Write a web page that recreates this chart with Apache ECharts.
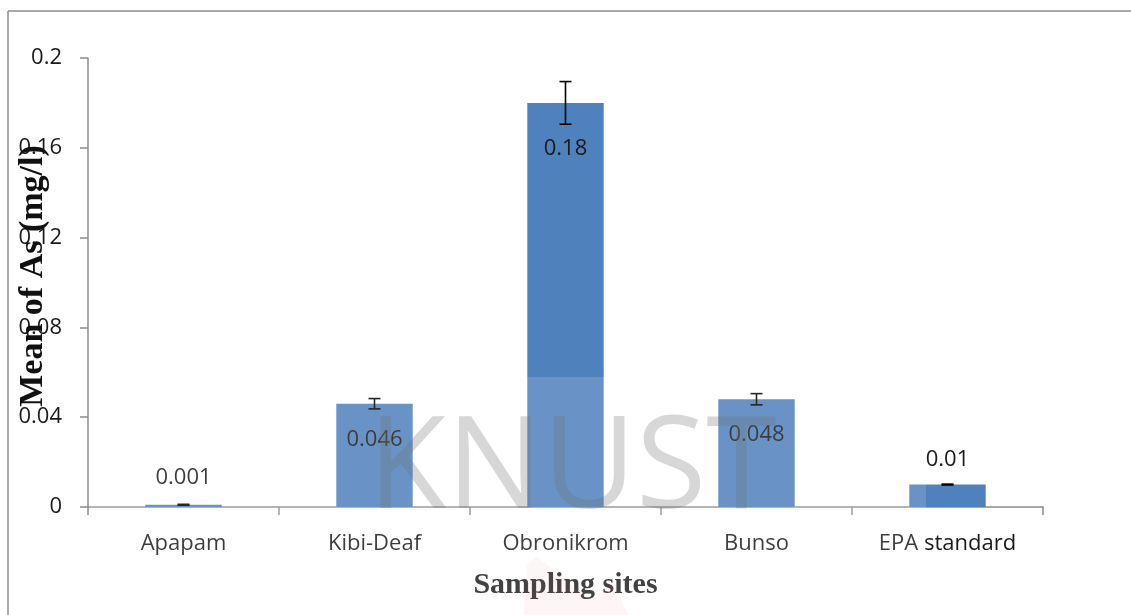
<!DOCTYPE html>
<html><head><meta charset="utf-8">
<script src="https://cdn.jsdelivr.net/npm/echarts@6/dist/echarts.min.js"></script>
<style>html,body{margin:0;padding:0;background:#fff}#c{width:1131px;height:615px}</style>
</head><body><div id="c"></div>
<script>
const categories = ['Apapam', 'Kibi-Deaf', 'Obronikrom', 'Bunso', 'EPA standard'];
const meanValues = [0.001, 0.046, 0.18, 0.048, 0.01];
const errorValues = [0.0002, 0.0023, 0.0095, 0.0025, 0.0002];
const valueLabels = ['0.001', '0.046', '0.18', '0.048', '0.01'];
const labelPlacement = ['top', 'insideTop', 'insideTop', 'insideTop', 'top'];
const labelDistance = [16, 25, 35, 24, 14];
const yTicks = [0, 0.04, 0.08, 0.12, 0.16, 0.2];

const chart = echarts.init(document.getElementById('c'), null, {renderer: 'canvas'});
const tickFont = {fontFamily: 'Open Sans', fontSize: 22, color: '#1a1a1a'};

const barData = meanValues.map((v, i) => ({
  value: v,
  label: {show: true, position: labelPlacement[i], distance: labelDistance[i],
          formatter: valueLabels[i], ...tickFont}
}));
const errData = meanValues.map((v, i) => [i, v - errorValues[i], v + errorValues[i]]);

chart.setOption({
  animation: false,
  grid: {left: 88, right: 88, top: 58, bottom: 108, containLabel: false, outerBoundsMode: 'none'},
  xAxis: {
    type: 'category', data: categories,
    axisLine: {lineStyle: {color: '#8c8c8c', width: 1.5}},
    axisTick: {show: true, length: 8, lineStyle: {color: '#8c8c8c', width: 1.5}},
    axisLabel: {margin: 26, ...tickFont},
    name: 'Sampling sites', nameLocation: 'middle', nameGap: 63,
    nameTextStyle: {fontFamily: 'Liberation Serif', fontWeight: 'bold', fontSize: 30, color: '#222'}
  },
  yAxis: {
    type: 'value', min: 0, max: 0.2, interval: 0.04,
    splitLine: {show: false},
    axisLine: {show: true, lineStyle: {color: '#8c8c8c', width: 1.5}},
    axisTick: {show: true, length: 8, lineStyle: {color: '#8c8c8c', width: 1.5}},
    axisLabel: {margin: 26, ...tickFont, formatter: v => String(+v.toFixed(2))}
  },
  series: [
    {type: 'bar', data: barData, barWidth: '40%', itemStyle: {color: '#4F81BD'}, z: 2},
    {type: 'custom', data: errData, z: 5,
     renderItem: (params, api) => {
       const x = api.value(0);
       const lo = api.coord([x, api.value(1)]);
       const hi = api.coord([x, api.value(2)]);
       const hw = 6;
       const st = {stroke: '#000', lineWidth: 1.6};
       return {type: 'group', children: [
         {type: 'line', shape: {x1: lo[0], y1: lo[1], x2: hi[0], y2: hi[1]}, style: st},
         {type: 'line', shape: {x1: lo[0]-hw, y1: lo[1], x2: lo[0]+hw, y2: lo[1]}, style: st},
         {type: 'line', shape: {x1: hi[0]-hw, y1: hi[1], x2: hi[0]+hw, y2: hi[1]}, style: st}
       ]};
     }}
  ],
  graphic: [
    {type: 'line', shape: {x1: 8, y1: 11, x2: 1131, y2: 11}, style: {stroke: '#8c8c8c', lineWidth: 1.5}, z: 100, silent: true},
    {type: 'line', shape: {x1: 8, y1: 11, x2: 8, y2: 615}, style: {stroke: '#8c8c8c', lineWidth: 1.5}, z: 100, silent: true},
    {type: 'polygon', shape: {points: [[524, 615], [527, 566], [536, 556], [560, 575], [592, 600], [614, 582], [628, 615]]},
     style: {fill: 'rgba(220,70,70,0.06)'}, z: 1, silent: true},
    {type: 'rect', shape: {x: 90, y: 377, width: 836, height: 240}, style: {fill: 'rgba(255,255,255,0.15)'}, z: 90, silent: true},
    {type: 'text', x: 368, y: 408, style: {text: 'KNUST', font: '128px "Open Sans"', fill: 'rgba(110,110,110,0.28)'}, z: 95, silent: true},
    {type: 'text', x: 33, y: 276, rotation: Math.PI / 2,
     style: {text: 'Mean of As (mg/l)', font: 'bold 34px "Liberation Serif"', fill: '#111', align: 'center', verticalAlign: 'middle'}, z: 110, silent: true}
  ]
});
</script></body></html>
